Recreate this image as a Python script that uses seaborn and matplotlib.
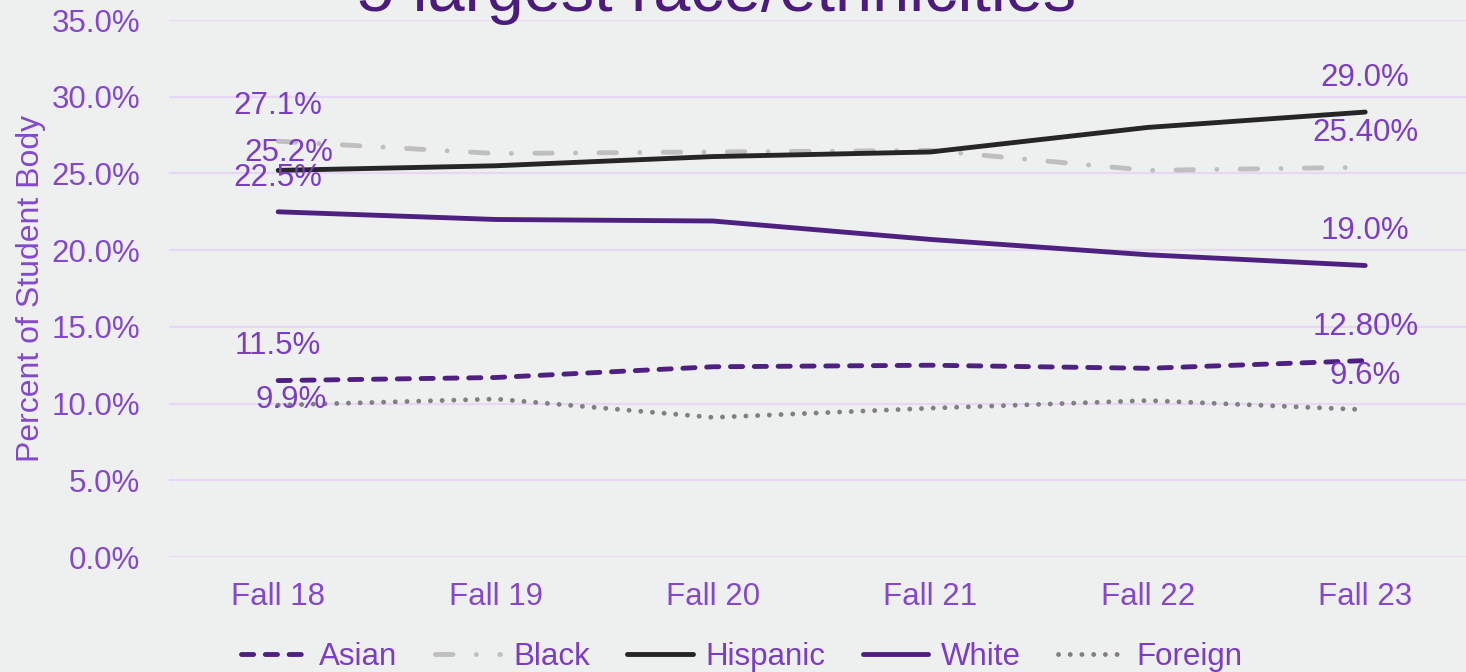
import pandas as pd
import matplotlib.pyplot as plt
import seaborn as sns

# data
terms = ["Fall 18", "Fall 19", "Fall 20", "Fall 21", "Fall 22", "Fall 23"]
groups = ["Asian", "Black", "Hispanic", "White", "Foreign"]
asian = [11.5, 11.7, 12.4, 12.5, 12.3, 12.8]
black = [27.1, 26.3, 26.4, 26.5, 25.2, 25.4]
hispanic = [25.2, 25.5, 26.1, 26.4, 28.0, 29.0]
white = [22.5, 22.0, 21.9, 20.7, 19.7, 19.0]
foreign = [9.9, 10.3, 9.1, 9.7, 10.2, 9.6]
first_labels = ["11.5%", "27.1%", "25.2%", "22.5%", "9.9%"]
last_labels = ["12.80%", "25.40%", "29.0%", "19.0%", "9.6%"]
yticks = [0, 5, 10, 15, 20, 25, 30, 35]
title = "5 largest race/ethnicities"

series = [asian, black, hispanic, white, foreign]
df = pd.DataFrame({
    "term": terms * len(groups),
    "group": [g for g in groups for _ in terms],
    "pct": [v for s in series for v in s],
})

# styling
palette = {"Asian": "#4E2180", "Black": "#BFBFBF", "Hispanic": "#262626",
           "White": "#4E2180", "Foreign": "#808080"}
dashes = {"Asian": (2.5, 2.4), "Black": (3.6, 4.8, 0.01, 4.8), "Hispanic": "",
          "White": "", "Foreign": (0.01, 2.4)}
label_color = "#7B3CC6"
tick_color = "#8448CC"
grid_color = "#E6D7F6"
bg = "#EEEFEF"
lw = 3.5

sns.set_theme(style="white")
plt.rcParams["font.family"] = ["Liberation Sans", "DejaVu Sans"]
plt.rcParams["lines.dash_capstyle"] = "round"
plt.rcParams["lines.solid_capstyle"] = "round"

fig = plt.figure(figsize=(14.66, 6.72), dpi=100, facecolor=bg)
ax = fig.add_axes([0.1156, 0.1711, 0.8898, 0.7991])
ax.set_facecolor(bg)

sns.lineplot(data=df, x="term", y="pct", hue="group", style="group",
             hue_order=groups, style_order=groups, palette=palette,
             dashes=dashes, linewidth=lw, errorbar=None, ax=ax, legend=True)
for ln in ax.get_lines():
    ln.set_dash_capstyle("round")
    ln.set_solid_capstyle("round")

ax.set_xlim(-0.5, 5.5)
ax.set_ylim(0, 35)
ax.set_yticks(yticks)
ax.set_yticklabels([f"{t:.1f}%" for t in yticks])
ax.grid(axis="y", color=grid_color, linewidth=1.5)
ax.set_axisbelow(True)
sns.despine(ax=ax, left=True, bottom=True)
ax.tick_params(axis="both", length=0, labelsize=22.5, colors=tick_color)
ax.tick_params(axis="y", pad=21)
ax.tick_params(axis="x", pad=18)
ax.set_xlabel("")
ax.set_ylabel("Percent of Student Body", fontsize=23, color=tick_color)
ax.yaxis.set_label_coords(-0.095, 0.5)

# end-point data labels
first_off = {"Black": (0, 25.5), "Hispanic": (8, 12.5), "White": (0, 24), "Asian": (0, 25), "Foreign": (9, 4)}
for g, s, lf, ll in zip(groups, series, first_labels, last_labels):
    ax.annotate(lf, (0, s[0]), xytext=first_off[g], textcoords="offset points",
                ha="center", va="center", fontsize=22.5, color=label_color)
    ax.annotate(ll, (5, s[-1]), xytext=(0, 24.5), textcoords="offset points",
                ha="center", va="center", fontsize=22.5, color=label_color)

handles, labels = ax.get_legend_handles_labels()
ax.get_legend().remove()
leg = fig.legend(handles, labels, loc="center", bbox_to_anchor=(0.506, 0.022),
                 ncol=5, frameon=False, fontsize=22.5, handlelength=2.1,
                 handletextpad=0.4, columnspacing=1.2)
for h in leg.legend_handles:
    h.set_linewidth(lw)
    h.set_dash_capstyle("round")
for t in leg.get_texts():
    t.set_color(label_color)

fig.text(0.489, 1 - 11 / 672, title, ha="center", va="baseline",
         fontsize=48, color="#4B1C7C")

fig.savefig("out.png", dpi=100, facecolor=bg)
